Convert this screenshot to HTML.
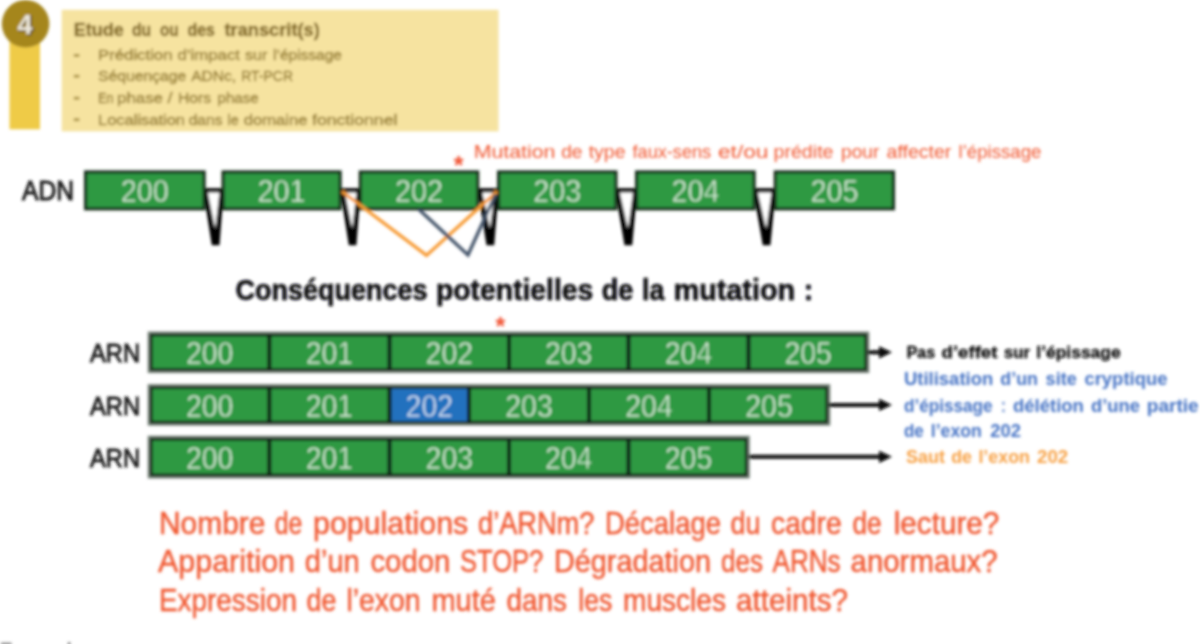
<!DOCTYPE html>
<html>
<head>
<meta charset="utf-8">
<title>Etude du ou des transcrit(s)</title>
<style>
html,body{margin:0;padding:0;background:#ffffff;}
body{width:1200px;height:644px;overflow:hidden;font-family:"Liberation Sans",sans-serif;}
svg{display:block;font-family:"Liberation Sans",sans-serif;}
.b{font-weight:bold;}
</style>
</head>
<body>
<svg width="1200" height="644" viewBox="0 0 1200 644">
<defs>
<filter id="bl" x="-2%" y="-2%" width="104%" height="104%"><feGaussianBlur stdDeviation="1.45"/></filter>
</defs>
<rect x="0" y="0" width="1200" height="644" fill="#ffffff"/>
<g filter="url(#bl)">
<!-- header badge -->
<rect x="9.5" y="30" width="30.5" height="99.3" fill="#EFCB46"/>
<circle cx="25.6" cy="23.8" r="23.8" fill="#A5861F"/>
<text x="26.2" y="35.3" text-anchor="middle" font-size="27" class="b" fill="#4d3c0c" stroke="#4d3c0c" stroke-width="1.2" opacity="0.75">4</text>
<text x="25" y="34.3" text-anchor="middle" font-size="27" class="b" fill="#eeeae0">4</text>
<!-- header box -->
<rect x="61.7" y="9.8" width="436.8" height="121.6" fill="#F6E3A0"/>
<g font-size="18" class="b" fill="#7f651a" stroke="#7f651a" stroke-width="0.35">
<text x="73.7" y="36" textLength="50.0" lengthAdjust="spacingAndGlyphs">Etude</text>
<text x="132.0" y="36" textLength="19.2" lengthAdjust="spacingAndGlyphs">du</text>
<text x="160.0" y="36" textLength="18.7" lengthAdjust="spacingAndGlyphs">ou</text>
<text x="187.5" y="36" textLength="27.5" lengthAdjust="spacingAndGlyphs">des</text>
<text x="224.5" y="36" textLength="95.3" lengthAdjust="spacingAndGlyphs">transcrit(s)</text>
</g>
<g fill="#a8903f"><rect x="73.8" y="54" width="5.6" height="2.8"/><rect x="73.8" y="74.8" width="5.6" height="2.8"/><rect x="73.8" y="96.8" width="5.6" height="2.8"/><rect x="73.8" y="118.3" width="5.6" height="2.8"/></g>
<g font-size="15.5" fill="#92792b" stroke="#92792b" stroke-width="0.35">
<text x="98.0" y="60" textLength="74.5" lengthAdjust="spacingAndGlyphs">Prédiction</text>
<text x="177.5" y="60" textLength="62.5" lengthAdjust="spacingAndGlyphs">d’impact</text>
<text x="245.0" y="60" textLength="22.5" lengthAdjust="spacingAndGlyphs">sur</text>
<text x="273.0" y="60" textLength="69.0" lengthAdjust="spacingAndGlyphs">l’épissage</text>
</g>
<g font-size="15.5" fill="#92792b" stroke="#92792b" stroke-width="0.35">
<text x="98.0" y="81" textLength="88.2" lengthAdjust="spacingAndGlyphs">Séquençage</text>
<text x="191.2" y="81" textLength="45.0" lengthAdjust="spacingAndGlyphs">ADNc,</text>
<text x="241.2" y="81" textLength="51.8" lengthAdjust="spacingAndGlyphs">RT-PCR</text>
</g>
<g font-size="15.5" fill="#92792b" stroke="#92792b" stroke-width="0.35">
<text x="98.0" y="102.5" textLength="15.7" lengthAdjust="spacingAndGlyphs">En</text>
<text x="117.0" y="102.5" textLength="46.0" lengthAdjust="spacingAndGlyphs">phase</text>
<text x="167.5" y="102.5" textLength="5.0" lengthAdjust="spacingAndGlyphs">/</text>
<text x="178.0" y="102.5" textLength="33.2" lengthAdjust="spacingAndGlyphs">Hors</text>
<text x="217.5" y="102.5" textLength="41.2" lengthAdjust="spacingAndGlyphs">phase</text>
</g>
<g font-size="15.5" fill="#92792b" stroke="#92792b" stroke-width="0.35">
<text x="98.0" y="124.7" textLength="87.0" lengthAdjust="spacingAndGlyphs">Localisation</text>
<text x="188.7" y="124.7" textLength="33.8" lengthAdjust="spacingAndGlyphs">dans</text>
<text x="227.5" y="124.7" textLength="11.2" lengthAdjust="spacingAndGlyphs">le</text>
<text x="243.7" y="124.7" textLength="63.8" lengthAdjust="spacingAndGlyphs">domaine</text>
<text x="312.0" y="124.7" textLength="85.4" lengthAdjust="spacingAndGlyphs">fonctionnel</text>
</g>
<!-- mutation label -->
<g font-size="18.6" fill="#F0562F">
<text x="473.7" y="158" textLength="81.8" lengthAdjust="spacingAndGlyphs">Mutation</text>
<text x="561.2" y="158" textLength="21.3" lengthAdjust="spacingAndGlyphs">de</text>
<text x="588.7" y="158" textLength="36.8" lengthAdjust="spacingAndGlyphs">type</text>
<text x="632.5" y="158" textLength="78.7" lengthAdjust="spacingAndGlyphs">faux-sens</text>
<text x="718.0" y="158" textLength="50.4" lengthAdjust="spacingAndGlyphs">et/ou</text>
<text x="773.5" y="158" textLength="60.0" lengthAdjust="spacingAndGlyphs">prédite</text>
<text x="841.0" y="158" textLength="38.4" lengthAdjust="spacingAndGlyphs">pour</text>
<text x="886.6" y="158" textLength="64.8" lengthAdjust="spacingAndGlyphs">affecter</text>
<text x="958.6" y="158" textLength="82.8" lengthAdjust="spacingAndGlyphs">l’épissage</text>
</g>
<text x="458.5" y="173.6" font-size="25" text-anchor="middle" fill="#F0502F" class="b">*</text>
<text x="22" y="199.8" font-size="28" fill="#1a1a1a" stroke="#1a1a1a" stroke-width="1" textLength="52" lengthAdjust="spacingAndGlyphs">ADN</text>
<!-- introns -->
<path fill="#050505" d="M203.5,188.2 H223.5 V192 L219.5,245.2 L211.8,245.2 L203.5,192 Z"/>
<path fill="#ffffff" d="M207.9,192.6 H219.4 L215.2,229 Z"/>
<path fill="#050505" d="M340.5,188.2 H360.5 V192 L356.4,245.2 L348.8,245.2 L340.5,192 Z"/>
<path fill="#ffffff" d="M344.9,192.6 H356.4 L352.2,229 Z"/>
<path fill="#050505" d="M478.0,188.2 H498.5 V192 L494.2,245.2 L486.5,245.2 L478.0,192 Z"/>
<path fill="#ffffff" d="M482.4,192.6 H494.4 L490.0,229 Z"/>
<path fill="#050505" d="M615.5,188.2 H637.0 V192 L632.2,245.2 L624.5,245.2 L615.5,192 Z"/>
<path fill="#ffffff" d="M619.9,192.6 H632.9 L628.0,229 Z"/>
<path fill="#050505" d="M753.5,188.2 H775.5 V192 L770.4,245.2 L762.8,245.2 L753.5,192 Z"/>
<path fill="#ffffff" d="M757.9,192.6 H771.4 L766.2,229 Z"/>
<!-- exons DNA -->
<g fill="#2E9942" stroke="#142d1c" stroke-width="3.2">
<rect x="85.6" y="172" width="118.5" height="36.8"/>
<rect x="223.1" y="172" width="117.0" height="36.8"/>
<rect x="360.3" y="172" width="117.4" height="36.8"/>
<rect x="498.6" y="172" width="117.3" height="36.8"/>
<rect x="636.6" y="172" width="117.5" height="36.8"/>
<rect x="775.3" y="172" width="118.1" height="36.8"/>
</g>
<g font-size="32" fill="#e4f3e5" stroke="#2E9942" stroke-width="0.8">
<text x="120.8" y="202.2" textLength="48" lengthAdjust="spacingAndGlyphs">200</text>
<text x="257.6" y="202.2" textLength="48" lengthAdjust="spacingAndGlyphs">201</text>
<text x="395.0" y="202.2" textLength="48" lengthAdjust="spacingAndGlyphs">202</text>
<text x="533.2" y="202.2" textLength="48" lengthAdjust="spacingAndGlyphs">203</text>
<text x="671.4" y="202.2" textLength="48" lengthAdjust="spacingAndGlyphs">204</text>
<text x="810.4" y="202.2" textLength="48" lengthAdjust="spacingAndGlyphs">205</text>
</g>
<!-- splice lines -->
<path d="M342,191.5 L426.5,255.4 L497,191.5" fill="none" stroke="#F79A33" stroke-width="3.4"/>
<path d="M419,209.6 L468,255 L495.5,194.5" fill="none" stroke="#44546A" stroke-width="3.4"/>
<!-- title -->
<g font-size="29.5" class="b" fill="#0b0b12" stroke="#0b0b12" stroke-width="0.6">
<text x="235.5" y="299.5" textLength="192.0" lengthAdjust="spacingAndGlyphs">Conséquences</text>
<text x="436.0" y="299.5" textLength="157.3" lengthAdjust="spacingAndGlyphs">potentielles</text>
<text x="601.7" y="299.5" textLength="31.6" lengthAdjust="spacingAndGlyphs">de</text>
<text x="642.0" y="299.5" textLength="22.4" lengthAdjust="spacingAndGlyphs">la</text>
<text x="673.7" y="299.5" textLength="121.3" lengthAdjust="spacingAndGlyphs">mutation</text>
<text x="804.0" y="299.5" textLength="9.0" lengthAdjust="spacingAndGlyphs">:</text>
</g>
<text x="500.3" y="335" font-size="25" text-anchor="middle" fill="#F0502F" class="b">*</text>
<g font-size="25" fill="#1a1a1a" stroke="#1a1a1a" stroke-width="0.9">
<text x="90" y="362.2" textLength="50" lengthAdjust="spacingAndGlyphs">ARN</text>
<text x="90" y="414.5" textLength="50" lengthAdjust="spacingAndGlyphs">ARN</text>
<text x="90" y="466.5" textLength="50" lengthAdjust="spacingAndGlyphs">ARN</text>
</g>
<rect x="148.8" y="332.6" width="719.4" height="39.4" fill="#2E9942" stroke="#7a857d" stroke-width="2.2"/>
<rect x="151.2" y="335.0" width="714.6" height="34.6" fill="#2E9942" stroke="#142d1c" stroke-width="3"/>
<rect x="148.8" y="385.2" width="680.4" height="39.4" fill="#2E9942" stroke="#7a857d" stroke-width="2.2"/>
<rect x="151.2" y="387.6" width="675.6" height="34.6" fill="#2E9942" stroke="#142d1c" stroke-width="3"/>
<rect x="148.8" y="436.8" width="599.9" height="40.6" fill="#2E9942" stroke="#7a857d" stroke-width="2.2"/>
<rect x="151.2" y="439.2" width="595.1" height="35.8" fill="#2E9942" stroke="#142d1c" stroke-width="3"/>
<rect x="390.5" y="388.8" width="78" height="32.4" fill="#2071BE"/>
<g stroke="#0a1f12" stroke-width="4" fill="none">
<path d="M269.3,334.0 V370.6 M389.5,334.0 V370.6 M509,334.0 V370.6 M628.5,334.0 V370.6 M748.5,334.0 V370.6"/>
<path d="M269.3,386.6 V423.2 M389.5,386.6 V423.2 M469,386.6 V423.2 M589,386.6 V423.2 M709,386.6 V423.2"/>
<path d="M269.3,438.2 V476.0 M389.5,438.2 V476.0 M509,438.2 V476.0 M628.5,438.2 V476.0"/>
</g>
<g font-size="31" fill="#e4f3e5" stroke="#2E9942" stroke-width="0.8">
<text x="186.0" y="364.3" textLength="47.4" lengthAdjust="spacingAndGlyphs">200</text>
<text x="305.7" y="364.3" textLength="47.4" lengthAdjust="spacingAndGlyphs">201</text>
<text x="425.6" y="364.3" textLength="47.4" lengthAdjust="spacingAndGlyphs">202</text>
<text x="545.0" y="364.3" textLength="47.4" lengthAdjust="spacingAndGlyphs">203</text>
<text x="664.8" y="364.3" textLength="47.4" lengthAdjust="spacingAndGlyphs">204</text>
<text x="784.5" y="364.3" textLength="47.4" lengthAdjust="spacingAndGlyphs">205</text>
<text x="186.0" y="416.6" textLength="47.4" lengthAdjust="spacingAndGlyphs">200</text>
<text x="305.7" y="416.6" textLength="47.4" lengthAdjust="spacingAndGlyphs">201</text>
<text x="405.6" y="416.6" textLength="47.4" lengthAdjust="spacingAndGlyphs" fill="#e3eefa" stroke="#2071BE">202</text>
<text x="505.3" y="416.6" textLength="47.4" lengthAdjust="spacingAndGlyphs">203</text>
<text x="625.3" y="416.6" textLength="47.4" lengthAdjust="spacingAndGlyphs">204</text>
<text x="745.3" y="416.6" textLength="47.4" lengthAdjust="spacingAndGlyphs">205</text>
<text x="186.0" y="468.6" textLength="47.4" lengthAdjust="spacingAndGlyphs">200</text>
<text x="305.7" y="468.6" textLength="47.4" lengthAdjust="spacingAndGlyphs">201</text>
<text x="425.6" y="468.6" textLength="47.4" lengthAdjust="spacingAndGlyphs">203</text>
<text x="545.0" y="468.6" textLength="47.4" lengthAdjust="spacingAndGlyphs">204</text>
<text x="664.8" y="468.6" textLength="47.4" lengthAdjust="spacingAndGlyphs">205</text>
</g>
<!-- arrows -->
<g stroke="#080808" stroke-width="4" fill="none">
<path d="M868,352.3 H882"/><path d="M829,404.9 H882"/><path d="M749,456.8 H882"/>
</g>
<g fill="#080808">
<path d="M879,346.2 L892,352.3 L879,358.4 Z"/>
<path d="M879,398.8 L892,404.9 L879,411 Z"/>
<path d="M879,450.7 L892,456.8 L879,462.9 Z"/>
</g>
<g font-size="17.2" class="b" fill="#111111" stroke="#111111" stroke-width="0.4">
<text x="906.8" y="357.8" textLength="28.2" lengthAdjust="spacingAndGlyphs">Pas</text>
<text x="941.6" y="357.8" textLength="55.8" lengthAdjust="spacingAndGlyphs">d’effet</text>
<text x="1004.0" y="357.8" textLength="26.0" lengthAdjust="spacingAndGlyphs">sur</text>
<text x="1036.3" y="357.8" textLength="84.4" lengthAdjust="spacingAndGlyphs">l’épissage</text>
</g>
<g font-size="17.6" class="b" fill="#4472C4">
<text x="904.0" y="385.3" textLength="89.2" lengthAdjust="spacingAndGlyphs">Utilisation</text>
<text x="1000.3" y="385.3" textLength="37.7" lengthAdjust="spacingAndGlyphs">d’un</text>
<text x="1045.6" y="385.3" textLength="31.2" lengthAdjust="spacingAndGlyphs">site</text>
<text x="1084.4" y="385.3" textLength="83.1" lengthAdjust="spacingAndGlyphs">cryptique</text>
</g>
<g font-size="17.6" class="b" fill="#4472C4">
<text x="904.0" y="412" textLength="88.6" lengthAdjust="spacingAndGlyphs">d’épissage</text>
<text x="1001.2" y="412" textLength="4.4" lengthAdjust="spacingAndGlyphs">:</text>
<text x="1013.0" y="412" textLength="70.9" lengthAdjust="spacingAndGlyphs">délétion</text>
<text x="1091.0" y="412" textLength="49.0" lengthAdjust="spacingAndGlyphs">d’une</text>
<text x="1146.8" y="412" textLength="51.8" lengthAdjust="spacingAndGlyphs">partie</text>
</g>
<g font-size="17.6" class="b" fill="#4472C4">
<text x="904.0" y="437.3" textLength="19.8" lengthAdjust="spacingAndGlyphs">de</text>
<text x="930.8" y="437.3" textLength="51.0" lengthAdjust="spacingAndGlyphs">l’exon</text>
<text x="990.3" y="437.3" textLength="30.7" lengthAdjust="spacingAndGlyphs">202</text>
</g>
<g font-size="17.6" class="b" fill="#F7A043">
<text x="906.0" y="462.6" textLength="39.0" lengthAdjust="spacingAndGlyphs">Saut</text>
<text x="951.2" y="462.6" textLength="20.8" lengthAdjust="spacingAndGlyphs">de</text>
<text x="978.4" y="462.6" textLength="51.6" lengthAdjust="spacingAndGlyphs">l’exon</text>
<text x="1037.0" y="462.6" textLength="31.3" lengthAdjust="spacingAndGlyphs">202</text>
</g>
<!-- questions -->
<g font-size="30.5" fill="#F0562F" stroke="#F0562F" stroke-width="0.45">
<text x="159.0" y="533.7" textLength="106.5" lengthAdjust="spacingAndGlyphs">Nombre</text>
<text x="274.7" y="533.7" textLength="27.6" lengthAdjust="spacingAndGlyphs">de</text>
<text x="313.0" y="533.7" textLength="155.3" lengthAdjust="spacingAndGlyphs">populations</text>
<text x="478.0" y="533.7" textLength="116.4" lengthAdjust="spacingAndGlyphs">d’ARNm?</text>
<text x="605.0" y="533.7" textLength="116.0" lengthAdjust="spacingAndGlyphs">Décalage</text>
<text x="730.6" y="533.7" textLength="29.8" lengthAdjust="spacingAndGlyphs">du</text>
<text x="771.0" y="533.7" textLength="70.7" lengthAdjust="spacingAndGlyphs">cadre</text>
<text x="852.4" y="533.7" textLength="29.1" lengthAdjust="spacingAndGlyphs">de</text>
<text x="893.7" y="533.7" textLength="105.7" lengthAdjust="spacingAndGlyphs">lecture?</text>
</g>
<g font-size="30.5" fill="#F0562F" stroke="#F0562F" stroke-width="0.45">
<text x="158.0" y="571.7" textLength="137.0" lengthAdjust="spacingAndGlyphs">Apparition</text>
<text x="304.8" y="571.7" textLength="54.9" lengthAdjust="spacingAndGlyphs">d’un</text>
<text x="370.4" y="571.7" textLength="80.0" lengthAdjust="spacingAndGlyphs">codon</text>
<text x="460.0" y="571.7" textLength="83.3" lengthAdjust="spacingAndGlyphs">STOP?</text>
<text x="554.0" y="571.7" textLength="157.0" lengthAdjust="spacingAndGlyphs">Dégradation</text>
<text x="721.0" y="571.7" textLength="42.0" lengthAdjust="spacingAndGlyphs">des</text>
<text x="772.5" y="571.7" textLength="68.1" lengthAdjust="spacingAndGlyphs">ARNs</text>
<text x="850.6" y="571.7" textLength="147.0" lengthAdjust="spacingAndGlyphs">anormaux?</text>
</g>
<g font-size="30.5" fill="#F0562F" stroke="#F0562F" stroke-width="0.45">
<text x="159.0" y="610.5" textLength="138.0" lengthAdjust="spacingAndGlyphs">Expression</text>
<text x="306.6" y="610.5" textLength="29.8" lengthAdjust="spacingAndGlyphs">de</text>
<text x="346.4" y="610.5" textLength="74.2" lengthAdjust="spacingAndGlyphs">l’exon</text>
<text x="431.4" y="610.5" textLength="64.5" lengthAdjust="spacingAndGlyphs">muté</text>
<text x="506.6" y="610.5" textLength="60.4" lengthAdjust="spacingAndGlyphs">dans</text>
<text x="578.3" y="610.5" textLength="34.0" lengthAdjust="spacingAndGlyphs">les</text>
<text x="623.0" y="610.5" textLength="103.0" lengthAdjust="spacingAndGlyphs">muscles</text>
<text x="736.0" y="610.5" textLength="112.0" lengthAdjust="spacingAndGlyphs">atteints?</text>
</g>
<!-- cut-off text at bottom -->
<rect x="1" y="642.6" width="10.5" height="3" fill="#8f8f8f"/><rect x="68" y="642.4" width="2.2" height="3" fill="#555555"/>
</g>
</svg>
</body>
</html>
